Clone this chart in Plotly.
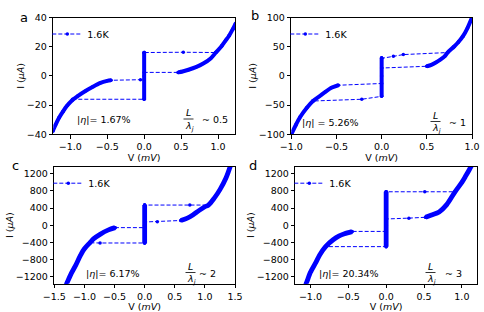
import plotly.graph_objects as go

BLUE = "#0000ff"
FONT = "DejaVu Sans"
W, H = 484, 312

# ---------------- data (V in mV, I in uA) ----------------
# panel a
a_pos_v = [0.46, 0.52, 0.6, 0.7, 0.8, 0.9, 0.97, 1.05, 1.1, 1.15, 1.2, 1.24]
a_pos_i = [2.4, 3.0, 4.2, 6.0, 8.5, 12.0, 16.0, 20.5, 24.0, 27.5, 32.0, 36.0]
a_neg_v = [-0.45, -0.5, -0.6, -0.7, -0.8, -0.9, -0.97, -1.05, -1.1, -1.15, -1.2, -1.24]
a_neg_i = [-3.0, -3.4, -5.0, -7.6, -10.5, -13.8, -16.5, -20.8, -24.5, -28.5, -33.5, -38.0]
a_jump_up_v, a_jump_up_i = [0.0, 0.53, 0.97], [16.0, 16.2, 16.0]
a_ret_pos_v, a_ret_pos_i = [0.46, 0.0], [2.4, 2.4]
a_jump_dn_v, a_jump_dn_i = [0.0, -0.97], [-16.0, -16.0]
a_ret_neg_v, a_ret_neg_i = [-0.45, -0.05, 0.0], [-3.0, -2.6, -2.6]
a_zero_i = [-16.0, 16.0]

# panel b
b_pos_v = [0.5, 0.55, 0.6, 0.65, 0.7, 0.73, 0.8, 0.85, 0.9, 0.95, 1.0]
b_pos_i = [16.5, 19.0, 23.0, 28.0, 34.0, 40.0, 50.0, 58.0, 68.0, 82.0, 100.0]
b_neg_v = [-0.48, -0.55, -0.62, -0.68, -0.76, -0.83, -0.9, -0.95, -1.0]
b_neg_i = [-16.0, -20.0, -27.0, -34.0, -43.0, -55.0, -70.0, -84.0, -100.0]
b_jump_up_v, b_jump_up_i = [0.0, 0.13, 0.24, 0.73], [30.0, 33.5, 36.5, 40.0]
b_ret_pos_v, b_ret_pos_i = [0.5, 0.0], [16.5, 13.5]
b_jump_dn_v, b_jump_dn_i = [0.0, -0.22, -0.76], [-35.0, -40.0, -43.0]
b_ret_neg_v, b_ret_neg_i = [-0.48, 0.0], [-16.0, -13.0]
b_zero_i = [-35.0, 31.0]

# panel c
c_pos_v = [0.6, 0.7, 0.8, 0.9, 1.0, 1.06, 1.15, 1.25, 1.35, 1.44]
c_pos_i = [110, 160, 240, 340, 430, 470, 620, 830, 1100, 1450]
c_neg_v = [-0.49, -0.6, -0.74, -0.85, -0.91, -1.0, -1.07, -1.15, -1.22, -1.3, -1.33]
c_neg_i = [-57, -110, -213, -320, -410, -550, -717, -950, -1130, -1380, -1460]
c_jump_up_v, c_jump_up_i = [0.0, 0.75, 1.06], [470, 470, 470]
c_ret_pos_v, c_ret_pos_i = [0.6, 0.21, 0.0], [110, 82, 75]
c_jump_dn_v, c_jump_dn_i = [0.0, -0.74, -0.91], [-415, -415, -410]
c_ret_neg_v, c_ret_neg_i = [-0.49, 0.0], [-57, -57]
c_zero_i = [-420, 470]

# panel d
d_pos_v = [0.52, 0.6, 0.7, 0.8, 0.91, 1.0, 1.05, 1.1, 1.16]
d_pos_i = [185, 240, 310, 480, 780, 1000, 1146, 1300, 1500]
d_neg_v = [-0.45, -0.55, -0.62, -0.7, -0.8, -0.88, -0.93, -1.0, -1.06, -1.1]
d_neg_i = [-150, -200, -250, -340, -500, -700, -873, -1100, -1378, -1520]
d_jump_up_v, d_jump_up_i = [0.0, 0.51, 0.91], [780, 780, 780]
d_ret_pos_v, d_ret_pos_i = [0.52, 0.3, 0.0], [185, 165, 145]
d_jump_dn_v, d_jump_dn_i = [0.0, -0.8], [-500, -500]
d_ret_neg_v, d_ret_neg_i = [-0.45, 0.0], [-145, -145]
d_zero_i = [-500, 780]

labels = ["a", "b", "c", "d"]
eta_text = ["|<i>η</i>|= 1.67%", "|<i>η</i>| = 5.26%", "|<i>η</i>|= 6.17%", "|<i>η</i>|= 20.34%"]
ratio_text = ["~ 0.5", "~ 1", "~ 2", "~ 3"]
legend_name = "1.6K"

x_ranges = [[-1.23, 1.23], [-1.0, 1.0], [-1.5, 1.5], [-1.2, 1.2]]
y_ranges = [[-40, 40], [-100, 100], [-1365, 1365], [-1365, 1365]]
x_ticks = [[-1.0, -0.5, 0.0, 0.5, 1.0], [-1.0, -0.5, 0.0, 0.5, 1.0],
           [-1.5, -1.0, -0.5, 0.0, 0.5, 1.0, 1.5], [-1.0, -0.5, 0.0, 0.5, 1.0]]
y_ticks = [[-40, -20, 0, 20, 40], [-100, -50, 0, 50, 100],
           [-1200, -800, -400, 0, 400, 800, 1200], [-1200, -800, -400, 0, 400, 800, 1200]]

panels = [
    dict(pos=(a_pos_v, a_pos_i), neg=(a_neg_v, a_neg_i), ju=(a_jump_up_v, a_jump_up_i),
         rp=(a_ret_pos_v, a_ret_pos_i), jd=(a_jump_dn_v, a_jump_dn_i), rn=(a_ret_neg_v, a_ret_neg_i), z=a_zero_i),
    dict(pos=(b_pos_v, b_pos_i), neg=(b_neg_v, b_neg_i), ju=(b_jump_up_v, b_jump_up_i),
         rp=(b_ret_pos_v, b_ret_pos_i), jd=(b_jump_dn_v, b_jump_dn_i), rn=(b_ret_neg_v, b_ret_neg_i), z=b_zero_i),
    dict(pos=(c_pos_v, c_pos_i), neg=(c_neg_v, c_neg_i), ju=(c_jump_up_v, c_jump_up_i),
         rp=(c_ret_pos_v, c_ret_pos_i), jd=(c_jump_dn_v, c_jump_dn_i), rn=(c_ret_neg_v, c_ret_neg_i), z=c_zero_i),
    dict(pos=(d_pos_v, d_pos_i), neg=(d_neg_v, d_neg_i), ju=(d_jump_up_v, d_jump_up_i),
         rp=(d_ret_pos_v, d_ret_pos_i), jd=(d_jump_dn_v, d_jump_dn_i), rn=(d_ret_neg_v, d_ret_neg_i), z=d_zero_i),
]

# layout geometry in pixels (left, right, top, bottom)
boxes = [(53.3, 235.0, 17.5, 134.3), (291.3, 472.0, 17.5, 134.3),
         (54.3, 235.0, 166.7, 283.7), (295.3, 477.0, 166.7, 283.7)]

def px(x):
    return x / W

def py(y):
    return 1 - y / H

def note(text, x, y, size=9.5):
    return dict(text=text, x=px(x), y=py(y), xref="paper", yref="paper",
                xanchor="center", yanchor="middle", showarrow=False,
                font=dict(family=FONT, size=size, color="black"))

fig = go.Figure()
layout = dict(width=W, height=H, margin=dict(l=0, r=0, t=0, b=0, autoexpand=False),
              paper_bgcolor="white", plot_bgcolor="white",
              font=dict(family=FONT, size=9.5, color="black"), showlegend=True)
annotations = []
shapes = []

for k, p in enumerate(panels):
    sfx = "" if k == 0 else str(k + 1)
    xa, ya = "x" + sfx, "y" + sfx
    leg = "legend" + sfx
    pv, pi = p["pos"]
    nv, ni = p["neg"]
    # full sweep in acquisition order
    sv, si = [], []
    sv += [0.0, 0.0]; si += [0.0, p["z"][1]]
    sv += p["ju"][0]; si += p["ju"][1]
    j = p["ju"][0][-1]
    up = [(v, i) for v, i in zip(pv, pi) if v >= j]
    sv += [v for v, _ in up]; si += [i for _, i in up]
    sv += pv[::-1]; si += pi[::-1]
    sv += p["rp"][0]; si += p["rp"][1]
    sv += [0.0, 0.0]; si += [p["z"][1], p["z"][0]]
    sv += p["jd"][0]; si += p["jd"][1]
    jn = p["jd"][0][-1]
    dn = [(v, i) for v, i in zip(nv, ni) if v <= jn]
    sv += [v for v, _ in dn]; si += [i for _, i in dn]
    sv += nv[::-1]; si += ni[::-1]
    sv += p["rn"][0]; si += p["rn"][1]

    lw = 4.0 if k < 2 else 4.8
    for cv, ci in [(pv, pi), (nv, ni), ([0.0, 0.0], p["z"])]:
        fig.add_trace(go.Scatter(x=cv, y=ci, mode="lines", xaxis=xa, yaxis=ya,
                                 line=dict(color=BLUE, width=lw, shape="spline", smoothing=0.8),
                                 showlegend=False, hoverinfo="skip"))
    fig.add_trace(go.Scatter(x=sv, y=si, mode="lines+markers", name=legend_name,
                             xaxis=xa, yaxis=ya, legend=leg,
                             line=dict(color=BLUE, width=1, dash="4px,2px"),
                             marker=dict(color=BLUE, size=3.5)))

    l, r, t, b = boxes[k]
    axcommon = dict(showline=True, linecolor="black", linewidth=1, mirror=True,
                    ticks="outside", ticklen=3.5, tickwidth=1, tickcolor="black",
                    showgrid=False, zeroline=False, automargin=False,
                    tickfont=dict(family=FONT, size=9.5, color="black"))
    layout["xaxis" + sfx] = dict(axcommon, domain=[px(l), px(r)], range=x_ranges[k],
                                 tickvals=x_ticks[k], tickformat=".1f", anchor=ya,
                                 title=dict(text="V (<i>mV</i>)", standoff=1,
                                            font=dict(family=FONT, size=9.5)))
    layout["yaxis" + sfx] = dict(axcommon, domain=[py(b), py(t)], range=y_ranges[k],
                                 tickvals=y_ticks[k], anchor=xa,
                                 title=dict(text="I (<i>μA</i>)", standoff=0,
                                            font=dict(family=FONT, size=9.5)))
    layout[leg] = dict(x=px(l - 6), y=py(t + 2), xanchor="left", yanchor="top",
                       bgcolor="rgba(0,0,0,0)", font=dict(family=FONT, size=9.5),
                       itemwidth=30, tracegroupgap=0)

# panel letters
letter_pos = [(24, 17), (255, 15), (15, 165), (253, 165)]
for k, (x, y) in enumerate(letter_pos):
    annotations.append(note(labels[k], x, y, size=13))

eta_pos = [(104, 119), (330, 123), (113, 273), (349, 273)]
frac_pos = [(188.5, 119), (435.5, 121.5), (190.5, 272.5), (430.5, 272.5)]
ratio_pos = [(215, 119), (457, 123), (207, 273), (453, 273)]
for k in range(4):
    annotations.append(note(eta_text[k], *eta_pos[k]))
    fx, fy = frac_pos[k]
    annotations.append(note("<i>L</i>", fx, fy - 6.5))
    annotations.append(note("<i>λ<sub>j</sub></i>", fx + 1, fy + 7))
    shapes.append(dict(type="line", xref="paper", yref="paper", x0=px(fx - 5), x1=px(fx + 5),
                       y0=py(fy), y1=py(fy), line=dict(color="black", width=0.8)))
    annotations.append(note(ratio_text[k], *ratio_pos[k]))

layout["annotations"] = annotations
layout["shapes"] = shapes
fig.update_layout(**layout)
fig.write_html("out.html", config={"displayModeBar": False},
               post_script="document.body.style.margin='0px';")
